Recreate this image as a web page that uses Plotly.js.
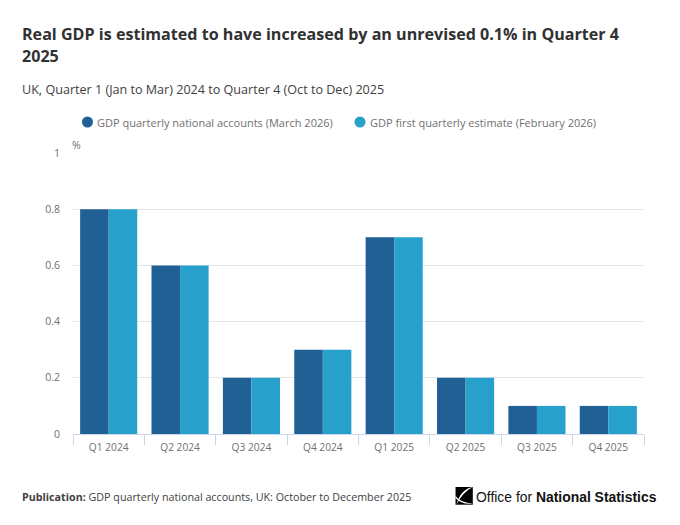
<!DOCTYPE html>
<html><head><meta charset="utf-8">
<script src="https://cdn.plot.ly/plotly-3.0.1.min.js"></script>
<style>html,body{margin:0;padding:0;background:#fff}#c{width:680px;height:525px}</style></head>
<body><div id="c"></div>
<script>
const categories = ["Q1 2024","Q2 2024","Q3 2024","Q4 2024","Q1 2025","Q2 2025","Q3 2025","Q4 2025"];
const nationalAccounts = [0.8,0.6,0.2,0.3,0.7,0.2,0.1,0.1];
const firstEstimate = [0.8,0.6,0.2,0.3,0.7,0.2,0.1,0.1];
const seriesNames = ["GDP quarterly national accounts (March 2026)","GDP first quarterly estimate (February 2026)"];
const colors = ["#206095","#27a0cc"];
const yTicks = [0,0.2,0.4,0.6,0.8,1];
const F = "'Open Sans', sans-serif";
const L=72.5,R=644.5,T=153,B=434;
const px = x=>(x-L)/(R-L), py = y=>(B-y)/(B-T);
const bar = (y,i)=>({type:"bar",x:categories,y:y,name:seriesNames[i],marker:{color:colors[i]},showlegend:false,
  hovertemplate:"%{x}: %{y}%<extra>"+seriesNames[i]+"</extra>"});
const note = (x,y,text,font)=>({xref:"paper",yref:"paper",x:px(x),y:py(y),xanchor:"left",yanchor:"middle",showarrow:false,xshift:-3,text,font});
const dot = (x,y,c)=>({type:"circle",xref:"paper",yref:"paper",xsizemode:"pixel",ysizemode:"pixel",xanchor:px(x),yanchor:py(y),
  x0:-5.5,x1:5.5,y0:-5.5,y1:5.5,fillcolor:c,line:{width:0}});
const poly = (p,fill)=>({type:"path",xref:"paper",yref:"paper",path:p(px,py),fillcolor:fill,line:{width:0}});
const titleSpan = s=>`<span style="font-size:16.1px">${s}</span>`;
const layout = {
  width:680,height:525,paper_bgcolor:"#fff",plot_bgcolor:"#fff",showlegend:false,
  font:{family:F,color:"#707071",size:11},
  margin:{l:L,r:680-R,t:T,b:525-B,pad:0},
  barmode:"group",bargap:0.2,bargroupgap:0,
  title:{text:titleSpan("Real GDP is estimated to have increased by an unrevised 0.1% in Quarter 4")+"<br>"+titleSpan("2025"),
    x:22/680,xanchor:"left",y:1-40/525,yanchor:"top",font:{family:F,size:16.92,color:"#323132",weight:700}},
  xaxis:{type:"category",tickson:"boundaries",ticks:"outside",ticklen:10,tickcolor:"#ccd6eb",tickwidth:1,
    showline:true,linecolor:"#ccd6eb",linewidth:1,showgrid:false,ticklabelstandoff:4,tickfont:{size:10.2,color:"#707071"},automargin:false},
  yaxis:{range:[0,1],tickmode:"array",tickvals:yTicks,ticktext:yTicks.map(String),showgrid:true,gridcolor:"#e6e6e6",gridwidth:1,
    zeroline:false,showline:false,ticks:"",ticklabelstandoff:12,tickfont:{size:10.5,color:"#707071"},automargin:false},
  annotations:[
    note(22,89,"UK, Quarter 1 (Jan to Mar) 2024 to Quarter 4 (Oct to Dec) 2025",{size:12.58,color:"#414042"}),
    note(98,122.5,seriesNames[0],{size:11,color:"#707071"}),
    note(371,122.5,seriesNames[1],{size:11,color:"#707071"}),
    note(72,145,"%",{size:10.5,color:"#707071"}),
    note(22,497,"<b>Publication:</b> GDP quarterly national accounts, UK: October to December 2025",{size:10.72,color:"#414042"}),
    note(477,497,"Office for <b>National Statistics</b>",{family:"'Liberation Sans',sans-serif",size:13.9,color:"#111"})
  ],
  shapes:[
    dot(87,122,colors[0]),dot(360,122,colors[1]),
    poly((x,y)=>`M ${x(455.7)} ${y(487)} L ${x(473)} ${y(487)} L ${x(473)} ${y(504.7)} L ${x(455.7)} ${y(504.7)} Z`,"#000"),
    poly((x,y)=>`M ${x(473)} ${y(487)} Q ${x(461)} ${y(489)} ${x(456.5)} ${y(504.7)} Q ${x(463)} ${y(492)} ${x(473)} ${y(487)} Z`,"#fff"),
    poly((x,y)=>`M ${x(455.7)} ${y(496)} Q ${x(461)} ${y(503)} ${x(473)} ${y(503.5)} Q ${x(462)} ${y(505)} ${x(455.7)} ${y(498)} Z`,"#fff")
  ]
};
Plotly.newPlot("c",[bar(nationalAccounts,0),bar(firstEstimate,1)],layout,{displayModeBar:false,responsive:false});
</script></body></html>
